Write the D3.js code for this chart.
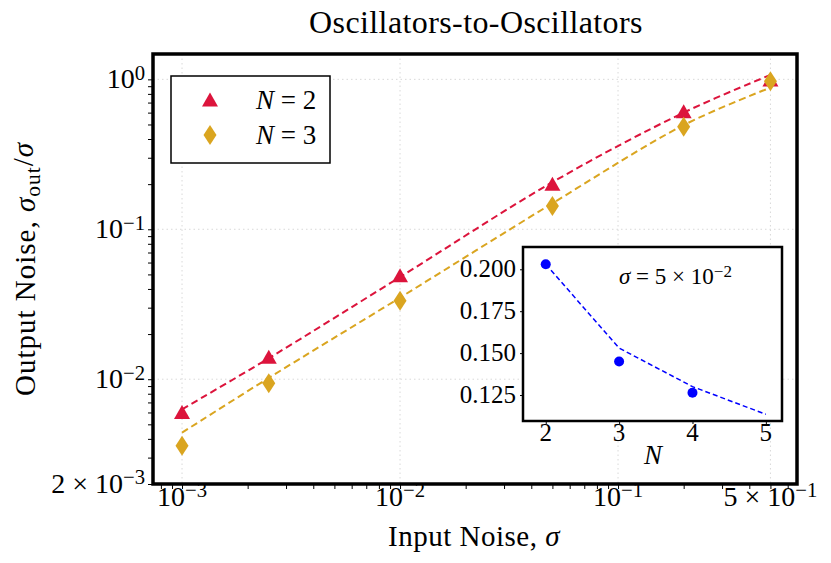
<!DOCTYPE html>
<html>
<head>
<meta charset="utf-8">
<script src="https://cdn.jsdelivr.net/npm/d3@7"></script>
<style>
  body { margin: 0; background: #fff; }
  svg { font-family: 'Liberation Serif', 'DejaVu Serif', serif; }
  .grid line { stroke: #d9d9d9; stroke-dasharray: 1.5,3; stroke-width: 1; }
</style>
</head>
<body>
<svg id="chart" width="831" height="563"></svg>
<script>
'use strict';

// Main panel: input noise sigma vs. sigma_out / sigma
const sigmaValues = [1e-3, 2.5e-3, 1e-2, 5e-2, 2e-1, 5e-1];
const ratioN2 = [0.0060, 0.0140, 0.049, 0.200, 0.609, 0.99];
const ratioN3 = [0.0036, 0.0094, 0.0334, 0.143, 0.483, 0.97];
// Dashed fit curves, read at the same sigma values
const fitN2 = [0.0063, 0.0138, 0.048, 0.206, 0.600, 1.07];
const fitN3 = [0.0044, 0.0102, 0.0350, 0.149, 0.495, 0.88];

const xDomain = [7.36e-4, 0.662];
const yDomain = [2e-3, 1.476];
const xTickValues = [1e-3, 1e-2, 1e-1, 5e-1];
const xTickLabels = [['10', '−3'], ['10', '−2'], ['10', '−1'], ['5 × 10', '−1']];
const yTickValues = [1, 1e-1, 1e-2, 2e-3];
const yTickLabels = [['10', '0'], ['10', '−1'], ['10', '−2'], ['2 × 10', '−3']];

// Inset: sigma = 5e-2, output ratio vs N
const insetN = [2, 3, 4];
const insetRatio = [0.203, 0.145, 0.1264];
const insetFitN = [2, 3, 4, 5];
const insetFit = [0.203, 0.153, 0.130, 0.1135];
const insetXDomain = [1.69, 5.22];
const insetYDomain = [0.1095, 0.2133];
const insetXTicks = [2, 3, 4, 5];
const insetYTicks = [0.200, 0.175, 0.150, 0.125];

const colorN2 = '#DC143C';
const colorN3 = '#DAA520';
const colorInset = '#0000FF';

const svg = d3.select('#chart');

// -----------------------------------------------------
// Helpers

// Text made of parts: [string, kind] where kind is 'n', 'i' (italic), 'sup', 'sub'
function richText(g, parts, attrs) {
    const t = g.append('text');
    Object.entries(attrs).forEach(([k, v]) => t.attr(k, v));
    let shift = 0;
    parts.forEach(([str, kind]) => {
        const span = t.append('tspan').text(str);
        let target = 0;
        if (kind === 'sup') target = -0.42;
        if (kind === 'sub') target = 0.25;
        const dy = target - shift;
        if (dy !== 0) span.attr('dy', `${dy}em`);
        shift = target;
        if (kind === 'sup' || kind === 'sub') span.attr('font-size', '0.74em');
        if (kind === 'i') span.attr('font-style', 'italic');
    });
    return t;
}

function powerLabel(pair) {
    return [[pair[0], 'n'], [pair[1], 'sup']];
}

function minorTicks(domain) {
    const ticks = [];
    for (let e = Math.floor(Math.log10(domain[0])); e <= Math.ceil(Math.log10(domain[1])); e++) {
        for (let m = 1; m < 10; m++) {
            const v = m * Math.pow(10, e);
            if (v >= domain[0] * 0.999 && v <= domain[1] * 1.001) ticks.push(v);
        }
    }
    return ticks;
}

// -----------------------------------------------------
// Main panel

const plot = { left: 153, right: 797, top: 54, bottom: 484 };

const x = d3.scaleLog().domain(xDomain).range([plot.left, plot.right]);
const y = d3.scaleLog().domain(yDomain).range([plot.bottom, plot.top]);

// Grid
const grid = svg.append('g').attr('class', 'grid');
grid.selectAll('.gx').data(xTickValues).enter().append('line')
    .attr('x1', d => x(d)).attr('x2', d => x(d))
    .attr('y1', plot.top).attr('y2', plot.bottom);
grid.selectAll('.gy').data(yTickValues).enter().append('line')
    .attr('x1', plot.left).attr('x2', plot.right)
    .attr('y1', d => y(d)).attr('y2', d => y(d));

// Axes ticks (outward, small)
const xAxis = d3.axisBottom(x).tickValues(minorTicks(xDomain)).tickSize(5).tickFormat('');
const yAxis = d3.axisLeft(y).tickValues(minorTicks(yDomain)).tickSize(5).tickFormat('');
svg.append('g').attr('transform', `translate(0,${plot.bottom})`).call(xAxis)
    .call(g => g.select('.domain').remove());
svg.append('g').attr('transform', `translate(${plot.left},0)`).call(yAxis)
    .call(g => g.select('.domain').remove());

// Tick labels
const tickLabels = svg.append('g').attr('font-size', 28).attr('fill', '#000');
xTickValues.forEach((v, i) => {
    richText(tickLabels, powerLabel(xTickLabels[i]), { x: x(v), y: 506, 'text-anchor': 'middle' });
});
yTickValues.forEach((v, i) => {
    richText(tickLabels, powerLabel(yTickLabels[i]), { x: 145, y: y(v) + 9, 'text-anchor': 'end' });
});

// Fit curves
const lineGen = d3.line().x(d => x(d[0])).y(d => y(d[1])).curve(d3.curveCatmullRom.alpha(0.5));
svg.append('path')
    .datum(d3.zip(sigmaValues, fitN2))
    .attr('d', lineGen)
    .attr('fill', 'none').attr('stroke', colorN2)
    .attr('stroke-width', 2).attr('stroke-dasharray', '7,4');
svg.append('path')
    .datum(d3.zip(sigmaValues, fitN3))
    .attr('d', lineGen)
    .attr('fill', 'none').attr('stroke', colorN3)
    .attr('stroke-width', 2).attr('stroke-dasharray', '7,4');

// Markers
const triangle = 'M0,-7.5L8,6.5L-8,6.5Z';
const diamond = 'M0,-10L6.5,0L0,10L-6.5,0Z';

svg.append('g').selectAll('path')
    .data(d3.zip(sigmaValues, ratioN2))
    .enter().append('path')
    .attr('d', triangle)
    .attr('transform', d => `translate(${x(d[0])},${y(d[1])})`)
    .attr('fill', colorN2);
svg.append('g').selectAll('path')
    .data(d3.zip(sigmaValues, ratioN3))
    .enter().append('path')
    .attr('d', diamond)
    .attr('transform', d => `translate(${x(d[0])},${y(d[1])})`)
    .attr('fill', colorN3);

// Frame
svg.append('rect')
    .attr('x', plot.left).attr('y', plot.top)
    .attr('width', plot.right - plot.left).attr('height', plot.bottom - plot.top)
    .attr('fill', 'none').attr('stroke', '#000').attr('stroke-width', 3.5);

// Legend
const legend = svg.append('g');
legend.append('rect')
    .attr('x', 171).attr('y', 76).attr('width', 159).attr('height', 87)
    .attr('fill', '#fff').attr('stroke', '#000').attr('stroke-width', 1.5);
legend.append('path').attr('d', triangle).attr('transform', 'translate(210,100)').attr('fill', colorN2);
legend.append('path').attr('d', diamond).attr('transform', 'translate(210,135)').attr('fill', colorN3);
richText(legend, [['N', 'i'], [' = 2', 'n']], { x: 256, y: 109, 'font-size': 27 });
richText(legend, [['N', 'i'], [' = 3', 'n']], { x: 256, y: 144, 'font-size': 27 });

// Title and axis labels
svg.append('text')
    .attr('x', 476).attr('y', 33)
    .attr('text-anchor', 'middle').attr('font-size', 32).attr('letter-spacing', 0.4)
    .text('Oscillators-to-Oscillators');
richText(svg, [['Input Noise, ', 'n'], ['σ', 'i']],
    { x: 474, y: 546, 'text-anchor': 'middle', 'font-size': 29, 'letter-spacing': 0.5 });
richText(svg, [['Output Noise, ', 'n'], ['σ', 'i'], ['out', 'sub'], ['/', 'n'], ['σ', 'i']],
    { transform: 'translate(35,269) rotate(-90)', 'text-anchor': 'middle', 'font-size': 29, 'letter-spacing': 1 });

// -----------------------------------------------------
// Inset

const inset = { left: 523, right: 782, top: 247, bottom: 421 };
const ix = d3.scaleLinear().domain(insetXDomain).range([inset.left, inset.right]);
const iy = d3.scaleLinear().domain(insetYDomain).range([inset.bottom, inset.top]);

const ig = svg.append('g');
ig.append('rect')
    .attr('x', inset.left).attr('y', inset.top)
    .attr('width', inset.right - inset.left).attr('height', inset.bottom - inset.top)
    .attr('fill', '#fff');

ig.append('g').attr('transform', `translate(0,${inset.bottom})`)
    .call(d3.axisBottom(ix).tickValues(insetXTicks).tickSize(3).tickFormat(''))
    .call(g => g.select('.domain').remove());
ig.append('g').attr('transform', `translate(${inset.left},0)`)
    .call(d3.axisLeft(iy).tickValues(insetYTicks).tickSize(3).tickFormat(''))
    .call(g => g.select('.domain').remove());

const insetLabels = ig.append('g').attr('font-size', 25);
insetXTicks.forEach(v => {
    insetLabels.append('text').attr('x', ix(v)).attr('y', 441)
        .attr('text-anchor', 'middle').text(v);
});
insetYTicks.forEach(v => {
    insetLabels.append('text').attr('x', 516).attr('y', iy(v) + 8)
        .attr('text-anchor', 'end').text(d3.format('.3f')(v));
});

ig.append('path')
    .datum(d3.zip(insetFitN, insetFit))
    .attr('d', d3.line().x(d => ix(d[0])).y(d => iy(d[1])))
    .attr('fill', 'none').attr('stroke', colorInset)
    .attr('stroke-width', 1.5).attr('stroke-dasharray', '5,3');

ig.selectAll('circle')
    .data(d3.zip(insetN, insetRatio))
    .enter().append('circle')
    .attr('cx', d => ix(d[0])).attr('cy', d => iy(d[1]))
    .attr('r', 5).attr('fill', colorInset);

ig.append('rect')
    .attr('x', inset.left).attr('y', inset.top)
    .attr('width', inset.right - inset.left).attr('height', inset.bottom - inset.top)
    .attr('fill', 'none').attr('stroke', '#000').attr('stroke-width', 2.5);

richText(ig, [['N', 'i']], { x: 653, y: 464, 'text-anchor': 'middle', 'font-size': 27 });
richText(ig, [['σ', 'i'], [' = 5 × 10', 'n'], ['−2', 'sup']], { x: 619, y: 284, 'font-size': 23 });
</script>
</body>
</html>
